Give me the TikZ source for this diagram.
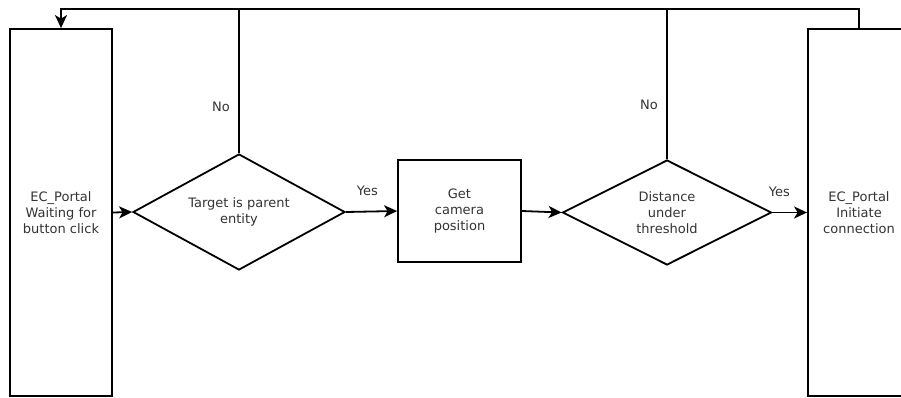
\documentclass[tikz,border=0pt]{standalone}
\usepackage{fontspec}
\setmainfont{DejaVu Sans}
\usetikzlibrary{positioning, arrows.meta, shapes.geometric}

\begin{document}
\begin{tikzpicture}[x=1pt, y=-1pt, line width=1.8pt,
    every node/.style={font=\fontsize{13}{16}\selectfont, text=black!80},
    flow/.style={-{Stealth[length=13pt, width=12pt, inset=3.5pt]}},
    statebox/.style={draw=black, rectangle, align=center, inner sep=0pt, minimum width=102pt, minimum height=367pt},
    choice/.style={draw=black, diamond, align=center, inner sep=0pt, aspect=1.8}
]
    \useasboundingbox (0,0) rectangle (901,398);

    \node[statebox] (wait) at (61,212.5) {EC\_Portal\\Waiting for\\button click};
    \node[choice, minimum width=212pt, minimum height=116pt] (parent) at (239,212) {Target is parent\\entity};
    \node[
        draw=black,
        rectangle,
        align=center,
        inner sep=0pt,
        minimum width=123pt,
        minimum height=102pt
    ] (camera) at (459.5,211) {Get\\camera\\position};
    \node[choice, minimum width=209pt, minimum height=105pt] (dist) at (667,212.5) {Distance\\under\\threshold};
    \node[statebox] (connect) at (859,212.5) {EC\_Portal\\Initiate\\connection};

    \coordinate (top) at (0,9);

    % main flow
    \draw[flow] (wait.east) -- (parent.west);
    \draw[flow] (parent.east) -- node[pos=0.42, above=12pt] {Yes} (camera.west);
    \draw[flow] (camera.east) -- (dist.west);
    \draw[flow] (dist.east) -- node[pos=0.2, above=12pt] {Yes} (connect.west);

    % back to waiting
    \draw (parent.north) -- node[pos=0.32, left=5pt] {No} (parent.north |- top);
    \draw (dist.north) -- node[pos=0.36, left=5pt] {No} (dist.north |- top);
    \draw[flow] (connect.north) -- (connect.north |- top) -- (wait.north |- top) -- (wait.north);
\end{tikzpicture}
\end{document}
